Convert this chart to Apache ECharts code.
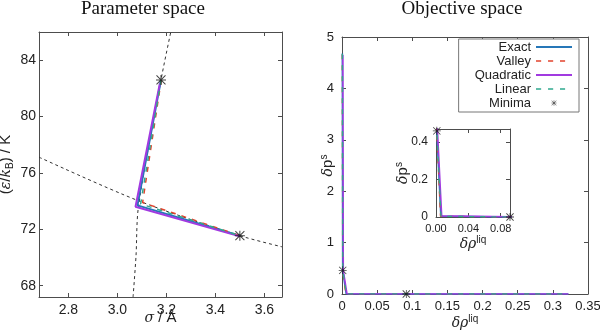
<!DOCTYPE html>
<html><head><meta charset="utf-8">
<script src="https://cdn.jsdelivr.net/npm/echarts@6/dist/echarts.min.js"></script>
<style>html,body{margin:0;padding:0;background:#fff}#c{width:600px;height:330px}</style>
</head><body><div id="c"></div>
<script>
// ---------- data ----------
const sigmaTicks = [2.8, 3.0, 3.2, 3.4, 3.6];
const epsTicks = [68, 72, 76, 80, 84];
const insetRhoTicks = [0, 0.04, 0.08];
const insetPTicks = [0, 0.2, 0.4];

const legendNames = ['Exact', 'Valley', 'Quadratic', 'Linear', 'Minima'];

// Parameter space (sigma / Å, eps/kB / K)
const exactSigma  = [3.178, 3.082, 3.500];
const exactEps    = [82.6, 73.70, 71.55];
const valleySigma = [3.179, 3.103, 3.500];
const valleyEps   = [82.6, 73.90, 71.55];
const quadSigma   = [3.174, 3.074, 3.500];
const quadEps     = [82.4, 73.60, 71.50];
const linearSigma = [3.178, 3.095, 3.500];
const linearEps   = [82.6, 73.80, 71.55];
const minSigma    = [3.178, 3.500];
const minEps      = [82.6, 71.55];
// dashed valley curves
const valleyASigma = [3.064, 3.076, 3.086, 3.178, 3.218];
const valleyAEps   = [67.2, 70.1, 73.6, 82.6, 86.0];
const valleyBSigma = [2.680, 3.084, 3.500, 3.672];
const valleyBEps   = [77.12, 74.04, 71.55, 70.76];

// Objective space (delta rho liq, delta p s)
const exactRho  = [0.0005, 0.0010, 0.0060, 0.0915, 0.322];
const exactP    = [4.68, 0.46, 0.004, 0.0, 0.0];
const valleyRho = [0.0004, 0.0009, 0.0055, 0.0915, 0.322];
const valleyP   = [4.66, 0.46, 0.004, 0.0, 0.0];
const quadRho   = [0.0012, 0.0018, 0.0070, 0.0915, 0.322];
const quadP     = [4.65, 0.46, 0.006, 0.001, 0.0];
const linearRho = [0.0006, 0.0011, 0.0062, 0.0915, 0.322];
const linearP   = [4.67, 0.46, 0.004, 0.0, 0.0];
const minRho    = [0.001, 0.0915];
const minP      = [0.46, 0.0];

// ---------- styling ----------
const SANS = 'Liberation Sans, Arial, sans-serif';
const SERIF = 'Liberation Serif, serif';
const AX = '#4d4d4d';
const TXT = '#222';
const colors = { Exact: '#2677b8', Valley: '#e2432d', Quadratic: '#a13ae0', Linear: '#2fa98e' };
const dashes = { Exact: 'solid', Valley: [5, 6], Quadratic: 'solid', Linear: [5, 6] };
const STAR = 'path://M0 9L20 9L20 11L0 11Z M9 0L11 0L11 20L9 20Z M1.7 0.3L19.7 18.3L18.3 19.7L0.3 1.7Z M18.3 0.3L19.7 1.7L1.7 19.7L0.3 18.3Z';
const STAR_LEG = STAR + ' M-9 -9L-9 -9L-9 -9Z M29 29L29 29L29 29Z';
const ICON_SOLID = 'path://M0 0H35V2H0Z';
const ICON_DASH = 'path://M0 0H5V1.6H0Z M11.7 0H16.7V1.6H11.7Z M23.3 0H28.3V1.6H23.3Z M35 0L35 0L35 0Z';
const legendIcons = { Exact: ICON_SOLID, Valley: ICON_DASH, Quadratic: ICON_SOLID, Linear: ICON_DASH, Minima: STAR_LEG };

const zip = (a, b) => a.map((v, i) => [v, b[i]]);

const rich = {
  p: { fontFamily: SANS, fontSize: 15, color: TXT, lineHeight: 18 },
  g: { fontFamily: 'DejaVu Serif, serif', fontStyle: 'italic', fontSize: 14, color: TXT, lineHeight: 18 },
  sub: { fontFamily: SANS, fontSize: 10, color: TXT, lineHeight: 11, verticalAlign: 'bottom' },
  sup: { fontFamily: SANS, fontSize: 10, color: TXT, lineHeight: 11, verticalAlign: 'top' }
};

function axisCommon(extra) {
  return Object.assign({
    type: 'value',
    splitLine: { show: false },
    nameMoveOverlap: false,
    axisLine: { show: true, onZero: false, lineStyle: { color: AX, width: 1 } },
    axisTick: { show: true, inside: true, length: 4, lineStyle: { color: AX } },
    axisLabel: { color: TXT, fontFamily: SANS }
  }, extra);
}
function mirror(base, pos) {
  const m = JSON.parse(JSON.stringify(base));
  m.position = pos;
  m.axisLabel = { show: false };
  delete m.name;
  return m;
}

// left panel axes
const xL = axisCommon({ gridIndex: 0, min: 2.68, max: 3.672, position: 'bottom' });
xL.axisTick.customValues = sigmaTicks;
xL.axisLabel = { color: TXT, fontFamily: SANS, fontSize: 14, margin: 6, customValues: sigmaTicks, formatter: v => v.toFixed(1) };
xL.name = '{g|σ}{p| / Å}';
xL.nameLocation = 'middle'; xL.nameGap = 12;
xL.nameTextStyle = { rich };

const yL = axisCommon({ gridIndex: 0, min: 67.2, max: 86, position: 'left' });
yL.axisTick.customValues = epsTicks;
yL.axisLabel = { color: TXT, fontFamily: SANS, fontSize: 14, margin: 3, customValues: epsTicks };
yL.name = '{p|(}{g|ε}{p|/}{g|k}{sub|B}{p|) / K}';
yL.nameLocation = 'middle'; yL.nameGap = 24;
yL.nameTextStyle = { rich };

// right panel axes
const xR = axisCommon({ gridIndex: 1, min: 0, max: 0.35, interval: 0.05, position: 'bottom' });
xR.axisLabel = { color: TXT, fontFamily: SANS, fontSize: 13, margin: 6 };
xR.name = '{g|δρ}{sup|liq}';
xR.nameLocation = 'middle'; xR.nameGap = 20;
xR.nameTextStyle = { rich };

const yR = axisCommon({ gridIndex: 1, min: 0, max: 5, interval: 1, position: 'left' });
yR.axisLabel = { color: TXT, fontFamily: SANS, fontSize: 13, margin: 8 };
yR.name = '{g|δ}{p|p}{sup|s}';
yR.nameLocation = 'middle'; yR.nameGap = 5;
yR.nameTextStyle = { rich };

// inset axes
const xI = axisCommon({ gridIndex: 2, min: 0, max: 0.0915, position: 'bottom' });
xI.axisTick.customValues = insetRhoTicks;
xI.axisLabel = { color: TXT, fontFamily: SANS, fontSize: 11, margin: 6, customValues: insetRhoTicks, formatter: v => v.toFixed(2) };
xI.name = '{g|δρ}{sup|liq}';
xI.nameLocation = 'middle'; xI.nameGap = 18;
xI.nameTextStyle = { rich };

const yI = axisCommon({ gridIndex: 2, min: 0, max: 0.47, position: 'left' });
yI.axisTick.customValues = insetPTicks;
yI.axisLabel = { color: TXT, fontFamily: SANS, fontSize: 12, margin: 8, customValues: insetPTicks, formatter: v => v === 0 ? '0' : v.toFixed(1) };
yI.name = '{g|δ}{p|p}{sup|s}';
yI.nameLocation = 'middle'; yI.nameGap = 24;
yI.nameTextStyle = { rich };

const xAxes = [xL, mirror(xL, 'top'), xR, mirror(xR, 'top'), xI, mirror(xI, 'top')];
const yAxes = [yL, mirror(yL, 'right'), yR, mirror(yR, 'right'), yI, mirror(yI, 'right')];

function lineSeries(name, data, axisIdx, width) {
  return {
    type: 'line', name, data, xAxisIndex: axisIdx, yAxisIndex: axisIdx,
    symbol: 'none', showSymbol: false, animation: false, silent: true,
    lineStyle: { color: colors[name], width, type: dashes[name] },
    itemStyle: { color: colors[name] }
  };
}
function minSeries(data, axisIdx, size) {
  return {
    type: 'scatter', name: 'Minima', data, xAxisIndex: axisIdx, yAxisIndex: axisIdx,
    symbol: STAR, symbolSize: size, animation: false, silent: true, z: 5,
    itemStyle: { color: '#111' }
  };
}
function valleyCurve(data) {
  return {
    type: 'line', name: 'valley-curve', data, xAxisIndex: 0, yAxisIndex: 0,
    symbol: 'none', showSymbol: false, animation: false, silent: true, smooth: 0.3,
    lineStyle: { color: '#333', width: 1, type: [3, 3] }
  };
}

const series = [
  valleyCurve(zip(valleyASigma, valleyAEps)),
  valleyCurve(zip(valleyBSigma, valleyBEps)),
  lineSeries('Exact', zip(exactSigma, exactEps), 0, 2),
  lineSeries('Valley', zip(valleySigma, valleyEps), 0, 1.5),
  lineSeries('Quadratic', zip(quadSigma, quadEps), 0, 2),
  lineSeries('Linear', zip(linearSigma, linearEps), 0, 1.5),
  minSeries(zip(minSigma, minEps), 0, 10)
];
[2, 4].forEach(ai => {
  series.push(
    lineSeries('Exact', zip(exactRho, exactP), ai, 1.6),
    lineSeries('Valley', zip(valleyRho, valleyP), ai, 1.3),
    lineSeries('Quadratic', zip(quadRho, quadP), ai, 1.6),
    lineSeries('Linear', zip(linearRho, linearP), ai, 1.3),
    minSeries(zip(minRho, minP), ai, 8)
  );
});

const chart = echarts.init(document.getElementById('c'), null, { renderer: 'canvas' });
chart.setOption({
  backgroundColor: '#fff',
  animation: false,
  title: [
    { text: 'Parameter space', left: 143, top: 0, textAlign: 'center', padding: 0,
      textStyle: { fontFamily: SERIF, fontWeight: 'normal', fontSize: 19, color: '#111' } },
    { text: 'Objective space', left: 462, top: 0, textAlign: 'center', padding: 0,
      textStyle: { fontFamily: SERIF, fontWeight: 'normal', fontSize: 19, color: '#111' } }
  ],
  grid: [
    { left: 39, top: 32, width: 243, height: 265, outerBoundsMode: 'none' },
    { left: 342, top: 37, width: 246, height: 257, outerBoundsMode: 'none' },
    { left: 436, top: 129, width: 74, height: 88, outerBoundsMode: 'none' }
  ],
  legend: {
    data: legendNames.map(n => ({ name: n, icon: legendIcons[n] })),
    orient: 'vertical', right: 21, top: 39, align: 'right',
    itemWidth: 36, itemHeight: 10, itemGap: 0,
    padding: [1, 7, 2, 16],
    borderColor: '#777', borderWidth: 1, backgroundColor: '#fff',
    selectedMode: false,
    textStyle: { fontFamily: SANS, fontSize: 13, color: TXT, lineHeight: 14 }
  },
  xAxis: xAxes,
  yAxis: yAxes,
  series
});
</script></body></html>
